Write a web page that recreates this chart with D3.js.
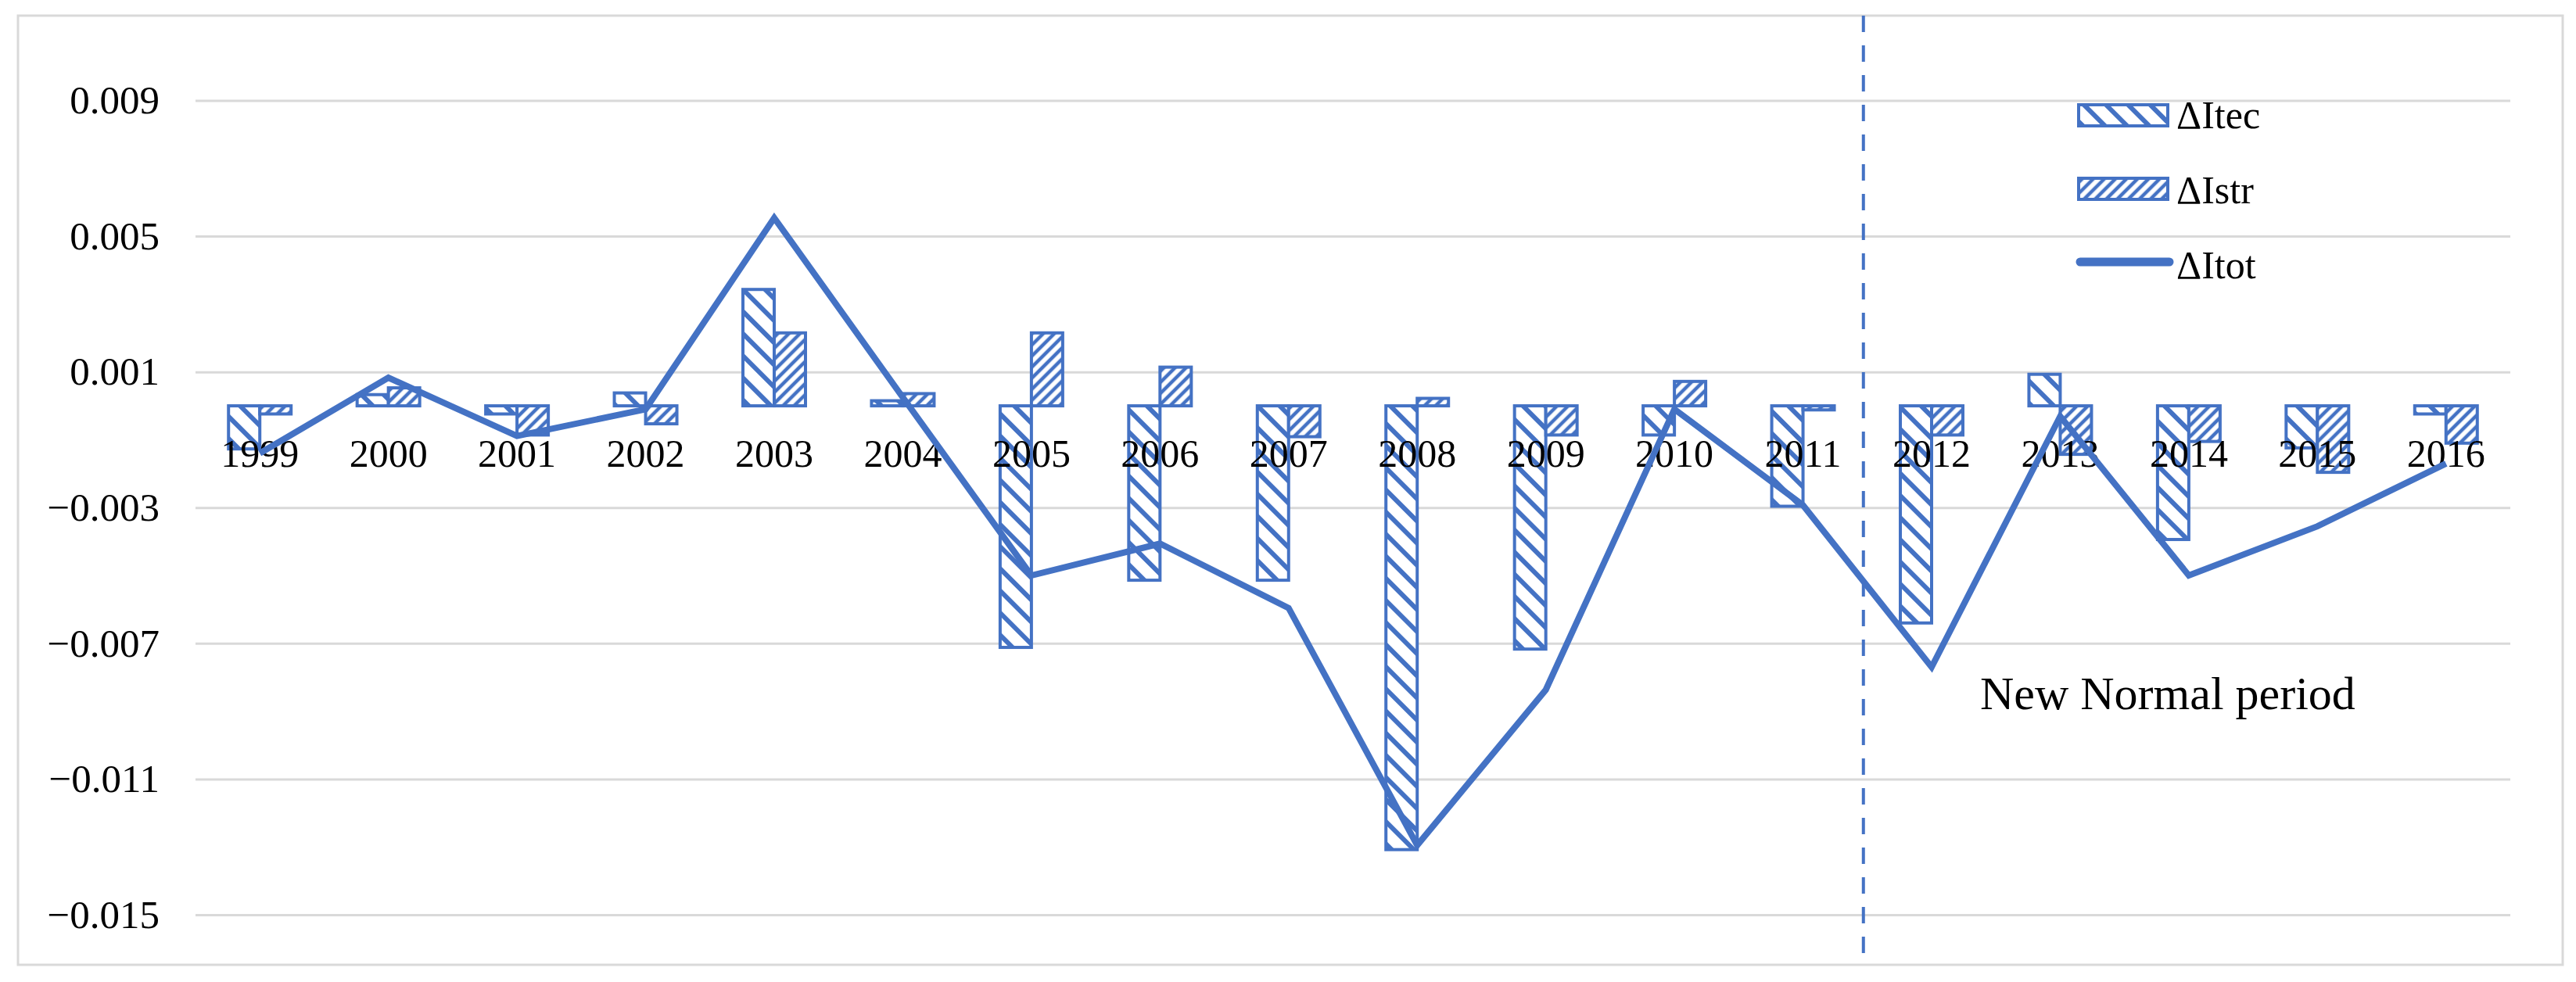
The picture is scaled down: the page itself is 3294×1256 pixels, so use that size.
<!DOCTYPE html>
<html>
<head>
    <meta charset="utf-8">
    <title>Itec / Istr / Itot</title>
    <script src="https://d3js.org/d3.v7.min.js"></script>
    <style>
        body, html {
            margin: 0;
            background: #fff;
            overflow: hidden;
        }
        text {
            font-family: "Liberation Serif", "Times New Roman", serif;
            fill: #000;
        }
    </style>
</head>
<body>
<div id="chart"></div>
<script>
    // data
    const years = ["1999", "2000", "2001", "2002", "2003", "2004", "2005", "2006", "2007",
                   "2008", "2009", "2010", "2011", "2012", "2013", "2014", "2015", "2016"];
    const itec = [-0.00127, 0.00033, -0.00024, 0.00038, 0.00343, 0.00015, -0.00712, -0.00514, -0.00514,
                  -0.01308, -0.00717, -0.00086, -0.00296, -0.0064, 0.00093, -0.00394, -0.00124, -0.00024];
    const istr = [-0.00024, 0.00053, -0.00086, -0.00053, 0.00215, 0.00036, 0.00215, 0.00114, -0.00091,
                  0.00022, -0.00086, 0.00072, -0.00012, -0.00086, -0.00143, -0.00105, -0.00196, -0.0011];
    const itot = [-0.0014, 0.00083, -0.00089, -0.0001, 0.00554, 0.00025, -0.005, -0.00406, -0.00596,
                  -0.01295, -0.00837, -0.0001, -0.00293, -0.0077, -0.00031, -0.005, -0.00355, -0.0017];
    const yTicks = [0.009, 0.005, 0.001, -0.003, -0.007, -0.011, -0.015];
    const seriesNames = ["ΔItec", "ΔIstr", "ΔItot"];
    const periodStart = "2012";
    const periodLabel = "New Normal period";

    const width = 3294, height = 1256;
    const blue = "#4472C4", grid = "#d9d9d9";
    const plotLeft = 250, plotRight = 3210, plotTop = 128.5, plotBottom = 1170;

    const svg = d3.select("#chart").append("svg")
        .attr("width", width)
        .attr("height", height);

    // hatch patterns
    const defs = svg.append("defs");
    function hatch(id, gap, sw, angle) {
        const p = defs.append("pattern")
            .attr("id", id)
            .attr("patternUnits", "userSpaceOnUse")
            .attr("width", gap)
            .attr("height", gap)
            .attr("patternTransform", `rotate(${angle})`);
        p.append("rect").attr("width", gap).attr("height", gap).attr("fill", "#fff");
        p.append("line")
            .attr("x1", gap / 2).attr("y1", 0)
            .attr("x2", gap / 2).attr("y2", gap)
            .attr("stroke", blue)
            .attr("stroke-width", sw);
    }
    hatch("tecHatch", 20, 6, -45);
    hatch("strHatch", 10, 4.5, 45);

    // outer frame
    svg.append("rect")
        .attr("x", 23).attr("y", 20)
        .attr("width", 3254).attr("height", 1214)
        .attr("fill", "none")
        .attr("stroke", grid)
        .attr("stroke-width", 3);

    const x = d3.scaleBand().domain(years).range([plotLeft, plotRight]);
    const xSub = d3.scaleBand().domain(["tec", "str"]).range([-40, 40]);
    const y = d3.scaleLinear().domain([-0.015, 0.009]).range([plotBottom, plotTop]);

    // gridlines
    const gridG = svg.append("g")
        .attr("transform", `translate(${plotLeft},0)`)
        .call(d3.axisLeft(y).tickValues(yTicks).tickSize(-(plotRight - plotLeft)).tickFormat(""));
    gridG.select(".domain").remove();
    gridG.selectAll("line").attr("stroke", grid).attr("stroke-width", 3);

    // y labels
    const yAxis = svg.append("g")
        .attr("transform", `translate(${plotLeft},0)`)
        .call(d3.axisLeft(y).tickValues(yTicks).tickSize(0).tickPadding(46).tickFormat(d3.format(".3f")));
    yAxis.select(".domain").remove();
    yAxis.selectAll("text")
        .style("font-size", "51px")
        .style("font-family", "Liberation Serif, serif")
        .attr("fill", "#000");

    // dashed separator before the New Normal period
    const sepX = x(periodStart) - 5;
    svg.append("line")
        .attr("x1", sepX).attr("x2", sepX)
        .attr("y1", 20).attr("y2", 1234)
        .attr("stroke", blue)
        .attr("stroke-width", 4)
        .attr("stroke-dasharray", "21 17");

    // bars
    const bars = years.map((yr, i) => [
        {year: yr, key: "tec", v: itec[i]},
        {year: yr, key: "str", v: istr[i]}
    ]).flat();

    svg.append("g").selectAll("rect")
        .data(bars)
        .join("rect")
        .attr("x", d => x(d.year) + x.bandwidth() / 2 + xSub(d.key))
        .attr("width", xSub.bandwidth())
        .attr("y", d => y(Math.max(0, d.v)))
        .attr("height", d => Math.abs(y(d.v) - y(0)))
        .attr("fill", d => d.key === "tec" ? "url(#tecHatch)" : "url(#strHatch)")
        .attr("stroke", blue)
        .attr("stroke-width", 4);

    // category labels sit just under the zero line
    svg.append("g").selectAll("text")
        .data(years)
        .join("text")
        .attr("x", d => x(d) + x.bandwidth() / 2)
        .attr("y", y(0) + 78)
        .attr("text-anchor", "middle")
        .style("font-size", "50px")
        .text(d => d);

    // total line
    const line = d3.line()
        .x((d, i) => x(years[i]) + x.bandwidth() / 2)
        .y(d => y(d));
    svg.append("path")
        .datum(itot)
        .attr("d", line)
        .attr("fill", "none")
        .attr("stroke", blue)
        .attr("stroke-width", 8)
        .attr("stroke-linejoin", "miter");

    // annotation
    svg.append("text")
        .attr("x", 2532)
        .attr("y", 907)
        .style("font-size", "60px")
        .text(periodLabel);

    // legend
    const legend = svg.append("g").attr("transform", "translate(2658,0)");
    legend.append("rect")
        .attr("x", 0).attr("y", 134).attr("width", 114).attr("height", 27)
        .attr("fill", "url(#tecHatch)").attr("stroke", blue).attr("stroke-width", 4);
    legend.append("rect")
        .attr("x", 0).attr("y", 228).attr("width", 114).attr("height", 27)
        .attr("fill", "url(#strHatch)").attr("stroke", blue).attr("stroke-width", 4);
    legend.append("line")
        .attr("x1", 2).attr("x2", 116).attr("y1", 335).attr("y2", 335)
        .attr("stroke", blue).attr("stroke-width", 11).attr("stroke-linecap", "round");
    legend.selectAll("text.lbl")
        .data(seriesNames)
        .join("text")
        .attr("class", "lbl")
        .attr("x", 125)
        .attr("y", (d, i) => [164, 260, 356][i])
        .style("font-size", "50px")
        .text(d => d);
</script>
</body>
</html>
